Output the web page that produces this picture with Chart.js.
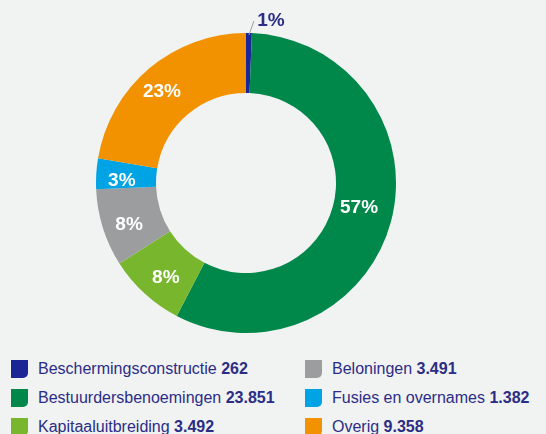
<!DOCTYPE html>
<html>
<head>
<meta charset="utf-8">
<script src="https://cdn.jsdelivr.net/npm/chart.js@4.4.1/dist/chart.umd.min.js"></script>
<style>
  html, body { margin: 0; padding: 0; background: #f1f2f2; }
  body { width: 546px; height: 434px; overflow: hidden; position: relative; font-family: "Liberation Sans", Arial, sans-serif; }
  #chartWrap { position: absolute; left: 0; top: 0; width: 546px; height: 340px; }
  #legend { position: absolute; left: 0; top: 359px; width: 546px; }
  .item { position: absolute; height: 20px; color: #2b2d86; font-size: 16px; line-height: 20px; white-space: nowrap; }
  .item b { font-weight: bold; }
  .swatch { position: absolute; left: 0; top: 1px; width: 17px; height: 18px; border-bottom-right-radius: 5px; }
  .item span.txt { position: absolute; left: 27px; top: 0; }
</style>
</head>
<body>
<div id="chartWrap"><canvas id="donut"></canvas></div>
<div id="legend"></div>
<script>
// Categories and values, clockwise from 12 o'clock
const categories = [
  "Beschermingsconstructie",
  "Bestuurdersbenoemingen",
  "Kapitaaluitbreiding",
  "Beloningen",
  "Fusies en overnames",
  "Overig"
];
const values = [262, 23851, 3492, 3491, 1382, 9358];
const valueLabels = ["262", "23.851", "3.492", "3.491", "1.382", "9.358"];
const percentLabels = ["1%", "57%", "8%", "8%", "3%", "23%"];
const colors = ["#1b2595", "#00874a", "#78b72d", "#9c9d9f", "#00a3e3", "#f29200"];

// Legend: two columns, three rows
const legendOrder = [0, 3, 1, 4, 2, 5];
const legendEl = document.getElementById("legend");
legendOrder.forEach(function (idx, n) {
  const col = n % 2;
  const row = Math.floor(n / 2);
  const item = document.createElement("div");
  item.className = "item";
  item.style.left = (col === 0 ? 11 : 305) + "px";
  item.style.top = (row * 29) + "px";
  item.innerHTML = '<div class="swatch" style="background:' + colors[idx] + '"></div>' +
    '<span class="txt">' + categories[idx] + ' <b>' + valueLabels[idx] + '</b></span>';
  legendEl.appendChild(item);
});

// Percent labels inside the ring; tiny slices get an outside label with a leader line
const sliceLabels = {
  id: "sliceLabels",
  afterDatasetsDraw(chart) {
    const ctx = chart.ctx;
    const meta = chart.getDatasetMeta(0);
    ctx.save();
    ctx.font = "bold 19px 'Liberation Sans', Arial, sans-serif";
    ctx.textAlign = "center";
    ctx.textBaseline = "middle";
    meta.data.forEach(function (arc, i) {
      const p = arc.getProps(["x", "y", "startAngle", "endAngle", "innerRadius", "outerRadius"], true);
      const mid = (p.startAngle + p.endAngle) / 2 - 0.04;
      const share = (p.endAngle - p.startAngle) / (2 * Math.PI);
      if (share < 0.02) {
        const x0 = p.x + Math.cos(mid + 0.04) * (p.outerRadius - 2);
        const y0 = p.y + Math.sin(mid + 0.04) * (p.outerRadius - 2);
        ctx.strokeStyle = "#9c9d9f";
        ctx.lineWidth = 1;
        ctx.beginPath();
        ctx.moveTo(x0, y0);
        ctx.lineTo(x0 + 5, y0 - 14);
        ctx.stroke();
        ctx.fillStyle = "#2b2d86";
        ctx.fillText(percentLabels[i], x0 + 22, y0 - 14);
      } else {
        const k = share > 0.5 ? 0.43 : 0.57;
        const r = p.innerRadius + (p.outerRadius - p.innerRadius) * k;
        ctx.fillStyle = "#ffffff";
        ctx.fillText(percentLabels[i], p.x + Math.cos(mid) * r, p.y + Math.sin(mid) * r);
      }
    });
    ctx.restore();
  }
};

const donutCtx = document.getElementById("donut").getContext("2d");
const donutChart = new Chart(donutCtx, {
  type: "doughnut",
  data: {
    labels: categories,
    datasets: [
      {
        data: values,
        backgroundColor: colors,
        borderWidth: 0,
      },
    ],
  },
  options: {
    responsive: true,
    maintainAspectRatio: false,
    animation: false,
    cutout: "60%",
    layout: {
      padding: { left: 96, right: 150, top: 33, bottom: 7 },
    },
    plugins: {
      legend: { display: false },
      tooltip: { enabled: false },
    },
  },
  plugins: [sliceLabels],
});
</script>
</body>
</html>
